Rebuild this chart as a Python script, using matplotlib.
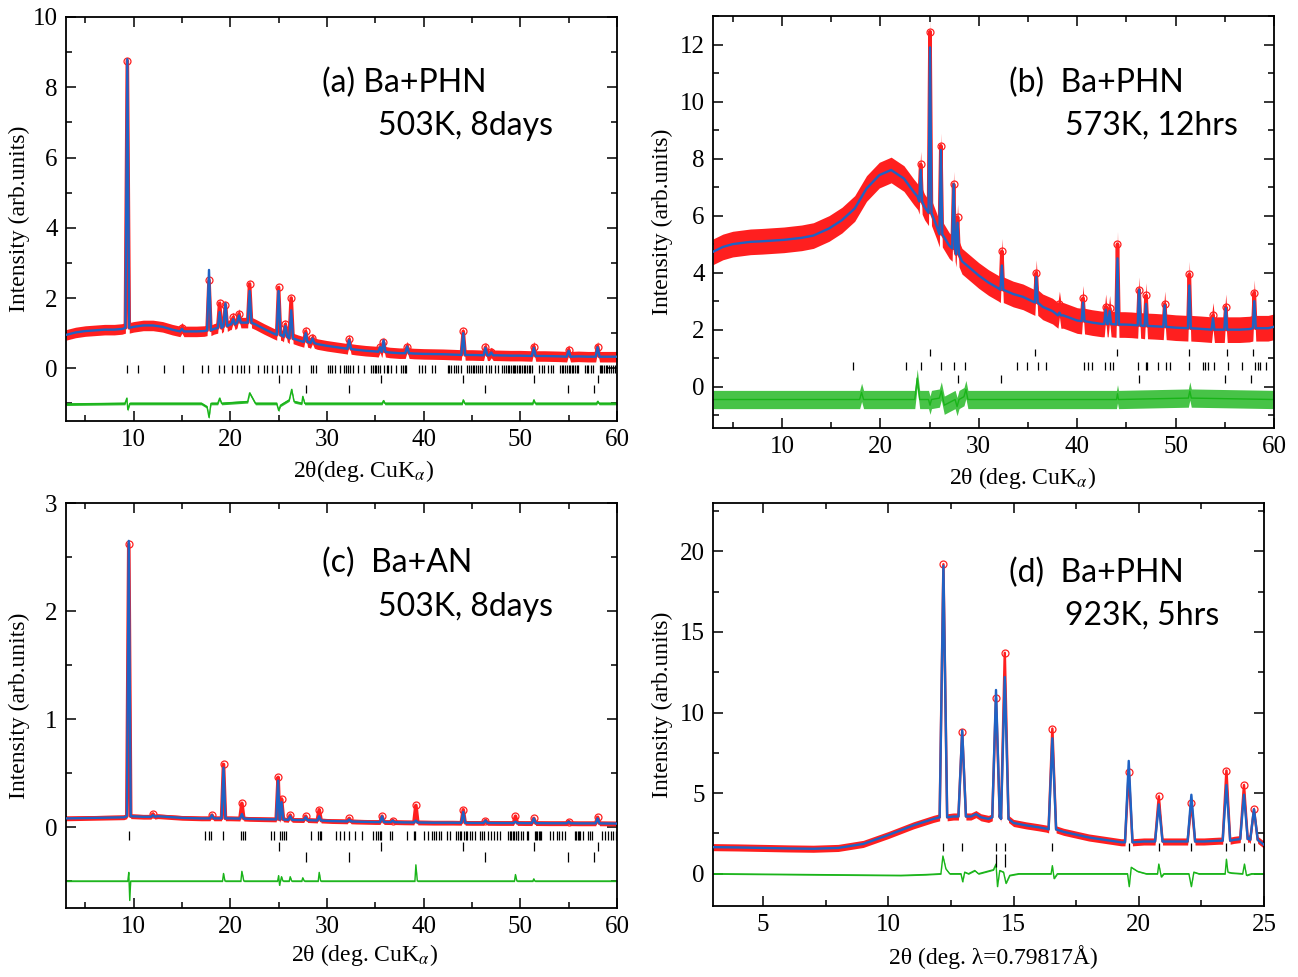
import numpy as np
import matplotlib
matplotlib.use('Agg')
import matplotlib.pyplot as plt
from matplotlib.ticker import MultipleLocator

plt.rcParams['font.family'] = 'serif'
plt.rcParams['font.serif'] = ['Liberation Serif', 'DejaVu Serif']
plt.rcParams['mathtext.fontset'] = 'stix'

# ---------------- panel (a) Ba+PHN 503K 8days ----------------
a_bg_x = [3, 4, 5, 6, 7, 8, 8.8, 10, 11, 12, 13, 14, 15.5, 16.5, 17.3, 18.3, 20.0, 21.4, 22.6, 23.5, 24.4,
          25.4, 26.0, 27.0, 28.15, 29, 30, 31, 32, 33, 34, 35, 36.5, 37.5, 39, 40, 42, 43, 45, 47.5, 49,
          50, 52.5, 54, 56, 57, 59, 60]
a_bg_y = [0.95, 1.02, 1.06, 1.08, 1.1, 1.1, 1.12, 1.18, 1.22, 1.22, 1.18, 1.1, 1.05, 1.05, 1.06, 1.12, 1.25,
          1.3, 1.25, 1.12, 1.0, 0.93, 0.88, 0.8, 0.74, 0.69, 0.64, 0.6, 0.56, 0.53, 0.5, 0.48, 0.45, 0.43, 0.42,
          0.41, 0.4, 0.39, 0.38, 0.37, 0.36, 0.36, 0.35, 0.34, 0.34, 0.33, 0.33, 0.33]
a_pk_x = [9.35, 15.0, 17.8, 18.9, 19.5, 20.3, 20.9, 22.0, 25.0, 25.7, 26.3, 27.8, 28.5, 32.3, 35.5, 35.85,
          38.3, 44.1, 46.4, 47.0, 51.4, 55.0, 58.0]
a_pk_base = [1.15, 1.05, 1.08, 1.15, 1.2, 1.25, 1.3, 1.3, 0.95, 0.9, 0.85, 0.75, 0.72, 0.55, 0.47, 0.47,
             0.43, 0.38, 0.37, 0.37, 0.35, 0.33, 0.33]
a_pk_calc = [8.8, 1.12, 2.8, 1.6, 1.85, 1.4, 1.5, 2.2, 2.2, 1.2, 1.65, 1.0, 0.85, 0.8, 0.6, 0.8,
             0.62, 1.0, 0.58, 0.45, 0.58, 0.5, 0.6]
a_pk_obs = [8.75, 1.15, 2.5, 1.85, 1.8, 1.45, 1.55, 2.4, 2.3, 1.25, 2.0, 1.05, 0.85, 0.82, 0.6, 0.75,
            0.62, 1.05, 0.6, 0.45, 0.62, 0.52, 0.62]
a_diff_x = [3, 9.1, 9.3, 9.4, 9.6, 17.0, 17.6, 17.8, 18.0, 18.7, 18.9, 19.1, 21.8, 22.0, 22.3, 22.6,
            24.8, 25.0, 25.2, 26.1, 26.35, 26.6, 27.4, 27.5, 27.7, 35.7, 35.85, 36.0, 44.0, 44.1, 44.25,
            51.3, 51.4, 51.55, 57.9, 58.0, 58.15, 60]
a_diff_y = [-1.02, -1.0, -0.85, -1.18, -1.0, -1.0, -1.1, -1.4, -1.0, -1.0, -0.85, -1.0, -0.95, -0.7, -0.85,
            -1.0, -1.0, -1.2, -1.05, -0.9, -0.6, -0.95, -1.0, -0.8, -1.0, -1.0, -0.92, -1.0, -1.0, -0.9, -1.0,
            -1.0, -0.9, -1.0, -1.0, -0.94, -1.0, -1.0]
a_ticks1 = [9.35, 10.5, 13.1, 15.1, 17.1, 17.7, 18.8, 19.4, 20.2, 20.7, 21.1, 21.4, 21.9, 22.9, 23.5, 23.8,
            24.3, 24.8, 25.4, 25.9, 26.3, 27.1, 28.4, 28.6, 28.9, 30.1, 30.3, 30.5, 30.8, 31.3, 31.8, 32.0,
            32.2, 32.4, 32.7, 33.2, 33.8, 34.6, 34.8, 35.0, 35.1, 35.3, 35.5, 35.9, 36.2, 36.3, 36.6, 37.1,
            37.7, 37.9, 38.1, 38.2, 39.5, 39.8, 40.1, 40.9, 41.2, 42.5, 42.6, 42.8, 43.1, 43.4, 43.6, 43.9,
            44.5, 44.7, 44.9, 45.1, 45.2, 45.4, 45.6, 45.8, 46.0, 46.5, 46.8, 47.0, 47.4, 47.7, 48.1, 48.3,
            48.5, 48.7, 48.8, 49.0, 49.2, 49.4, 49.5, 49.7, 49.9, 50.0, 50.2, 50.4, 50.5, 50.7, 50.9, 51.0,
            51.2, 51.9, 52.2, 52.5, 52.9, 53.2, 53.4, 54.1, 54.3, 54.4, 54.6, 54.8, 55.0, 55.1, 55.3, 55.5,
            55.7, 55.9, 56.0, 56.7, 56.9, 57.0, 57.3, 57.5, 58.2, 58.4, 58.5, 58.7, 58.9, 59.0, 59.2, 59.4,
            59.6, 59.8]
a_ticks2 = [25.0, 35.6, 44.1, 51.4, 58.0]
a_ticks3 = [27.8, 32.3, 46.3, 54.9, 57.6]

# ---------------- panel (b) Ba+PHN 573K 12hrs ----------------
b_bg_x = [3, 4, 5, 6.8, 8, 10.2, 12, 13.2, 14.8, 16.1, 17.4, 18.6, 19.9, 21.1, 22.4, 23.4, 23.8, 24.5,
          25.7, 27.0, 28.3, 30.0, 31.0, 32.0, 33.5, 34.5, 36.5, 37.5, 38.6, 40.0, 41.5, 42.5, 44.8, 45.5,
          47.8, 50.0, 52.5, 54.5, 56.5, 57.5, 59.4, 60]
b_bg_y = [4.73, 4.9, 5.0, 5.08, 5.1, 5.15, 5.22, 5.3, 5.55, 5.84, 6.25, 6.95, 7.42, 7.6, 7.3, 6.83, 6.66, 6.3,
          5.65, 4.95, 4.4, 3.9, 3.65, 3.45, 3.25, 3.15, 2.8, 2.65, 2.5, 2.32, 2.25, 2.2, 2.18, 2.17, 2.12,
          2.07, 2.03, 2.0, 2.0, 2.02, 2.05, 2.1]
b_pk_x = [24.1, 25.05, 26.15, 27.45, 27.85, 32.35, 35.85, 38.2, 40.6, 42.9, 43.3, 44.1, 46.3, 47.0, 48.9,
          51.4, 53.8, 55.1, 58.0]
b_pk_base = [6.5, 6.1, 5.35, 4.85, 4.65, 3.4, 2.95, 2.5, 2.3, 2.2, 2.2, 2.18, 2.15, 2.13, 2.1, 2.05, 2.0,
             2.0, 2.05]
b_pk_calc = [7.6, 11.9, 8.3, 7.1, 5.75, 4.25, 3.85, 2.6, 2.95, 2.7, 2.65, 4.5, 3.4, 2.9, 2.85, 3.55, 2.4,
             2.75, 3.0]
b_pk_obs = [7.8, 12.45, 8.45, 7.1, 5.95, 4.75, 4.0, 2.9, 3.1, 2.8, 2.75, 5.0, 3.4, 3.2, 2.9, 3.95, 2.5,
            2.8, 3.3]
b_diff_x = [3, 17.9, 18.1, 18.3, 23.5, 23.75, 24.0, 24.9, 25.05, 25.2, 26.0, 26.2, 26.5, 27.6, 27.8, 28.0,
            28.5, 28.7, 28.9, 44.0, 44.1, 44.2, 51.3, 51.45, 51.6, 60]
b_diff_y = [-0.45, -0.45, -0.2, -0.45, -0.45, 0.3, -0.45, -0.45, -0.65, -0.45, -0.4, -0.15, -0.65, -0.45,
            -0.7, -0.45, -0.35, -0.1, -0.45, -0.45, -0.25, -0.45, -0.4, -0.15, -0.4, -0.45]
b_ticks1 = [25.05, 35.7, 44.1, 51.4, 55.2, 57.9]
b_ticks2 = [17.2, 22.6, 24.1, 26.2, 27.5, 28.6, 33.9, 34.9, 36.0, 36.8, 40.65, 41.1, 41.5, 42.8, 43.3, 43.6,
            46.2, 47.0, 47.1, 48.2, 49.0, 49.4, 51.4, 52.8, 53.0, 53.3, 53.9, 55.3, 56.8, 58.1, 58.35, 58.6,
            59.2]
b_ticks3 = [27.9, 32.3, 46.3, 55.0, 57.7]

# ---------------- panel (c) Ba+AN 503K 8days ----------------
c_bg_x = [3, 6, 9, 11, 12.5, 15, 17, 20, 22, 23.5, 26.8, 28.5, 30.5, 33, 35, 38, 41, 43, 45, 48, 50.5, 53,
          56, 59, 60]
c_bg_y = [0.08, 0.085, 0.09, 0.095, 0.1, 0.085, 0.08, 0.08, 0.075, 0.072, 0.065, 0.062, 0.055, 0.05, 0.046,
          0.043, 0.04, 0.04, 0.038, 0.037, 0.036, 0.035, 0.034, 0.033, 0.032]
c_pk_x = [9.5, 12.0, 18.1, 19.3, 21.2, 24.95, 25.3, 26.2, 27.8, 29.2, 32.3, 35.7, 36.8, 39.2, 44.1, 46.4,
          49.5, 51.4, 55.0, 58.0]
c_pk_base = [0.1, 0.095, 0.08, 0.08, 0.078, 0.07, 0.07, 0.066, 0.064, 0.06, 0.052, 0.046, 0.045, 0.042, 0.039,
             0.038, 0.037, 0.036, 0.035, 0.034]
c_pk_calc = [2.65, 0.11, 0.11, 0.55, 0.12, 0.43, 0.23, 0.1, 0.09, 0.1, 0.07, 0.1, 0.06, 0.06, 0.14, 0.06,
             0.05, 0.08, 0.05, 0.08]
c_pk_obs = [2.62, 0.12, 0.11, 0.58, 0.22, 0.46, 0.26, 0.11, 0.1, 0.16, 0.08, 0.1, 0.06, 0.2, 0.16, 0.06,
            0.1, 0.08, 0.05, 0.09]
c_diff_x = [3, 9.4, 9.5, 9.6, 9.7, 19.2, 19.3, 19.45, 21.1, 21.2, 21.4, 24.9, 25.0, 25.1, 25.3, 25.45,
            26.1, 26.2, 26.35, 27.4, 27.5, 27.65, 29.1, 29.2, 29.35, 39.1, 39.2, 39.35, 49.4, 49.5, 49.65,
            51.3, 51.4, 51.5, 60]
c_diff_y = [-0.5, -0.5, -0.42, -0.68, -0.5, -0.5, -0.43, -0.5, -0.5, -0.41, -0.5, -0.5, -0.45, -0.54,
            -0.46, -0.5, -0.5, -0.46, -0.5, -0.5, -0.47, -0.5, -0.5, -0.42, -0.5, -0.5, -0.35, -0.5, -0.5,
            -0.44, -0.5, -0.5, -0.48, -0.5, -0.5]
c_ticks1 = [9.5, 17.4, 17.8, 18.0, 19.2, 21.15, 21.3, 21.55, 24.25, 24.55, 25.1, 25.35, 25.55, 25.8, 28.3,
            29.1, 29.25, 29.4, 30.95, 31.4, 31.8, 32.26, 32.88, 33.64, 34.78, 35.12, 35.3, 35.54, 35.64,
            36.5, 36.68, 38.33, 38.99, 39.16, 40.06, 40.47, 40.82, 41.09, 41.33, 41.58, 41.85, 42.47, 42.71,
            43.3, 43.51, 43.75, 43.92, 44.13, 44.34, 44.54, 44.79, 45.03, 45.3, 45.82, 46.0, 46.27, 46.68,
            46.96, 47.3, 47.61, 47.89, 48.75, 48.9, 49.05, 49.2, 49.4, 49.55, 49.75, 49.8, 50.06, 50.3,
            50.65, 50.82, 51.5, 51.6, 51.75, 51.9, 52.0, 52.15, 53.07, 53.41, 53.76, 54.0, 54.27, 54.62,
            55.7, 55.8, 55.95, 56.1, 56.2, 56.5, 57.03, 57.2, 57.38, 58.41, 58.76, 59.1, 59.38, 59.62, 59.86]
c_ticks2 = [25.0, 35.6, 44.1, 51.4, 58.0]
c_ticks3 = [27.8, 32.3, 46.3, 54.9, 57.6]

# ---------------- panel (d) Ba+PHN 923K 5hrs ----------------
d_bg_x = [3, 4, 5, 6, 7, 8, 9, 10, 11, 11.8, 12.6, 13.3, 13.5, 13.7, 14.0, 14.48, 15.0, 15.5, 16.0, 16.3,
          17.0, 18.0, 19.0, 19.3, 20.2, 21.5, 22.6, 23.2, 23.8, 24.4, 25]
d_bg_y = [1.65, 1.63, 1.6, 1.57, 1.55, 1.6, 1.85, 2.4, 3.0, 3.4, 3.55, 3.55, 3.7, 3.5, 3.4, 3.9, 3.15, 3.0,
          2.88, 2.8, 2.6, 2.25, 2.02, 1.95, 2.0, 2.0, 2.0, 2.05, 2.1, 2.2, 1.8]
d_pk_x = [12.2, 12.95, 14.3, 14.65, 16.55, 19.6, 20.8, 22.1, 23.5, 24.2, 24.6]
d_pk_base = [3.5, 3.55, 3.5, 3.4, 2.75, 1.95, 2.0, 2.0, 2.05, 2.15, 2.1]
d_pk_calc = [19.1, 8.9, 11.4, 12.2, 8.4, 7.0, 4.3, 4.9, 5.5, 4.9, 4.0]
d_pk_obs = [19.2, 8.8, 10.9, 13.7, 9.0, 6.3, 4.8, 4.4, 6.4, 5.5, 4.0]
d_diff_x = [3, 10.5, 11.5, 12.1, 12.18, 12.3, 12.45, 12.9, 12.97, 13.05, 13.2, 13.45, 13.6, 14.2, 14.3,
            14.36, 14.45, 14.6, 14.7, 14.85, 15.2, 16.5, 16.55, 16.62, 16.75, 19.55, 19.62, 19.7, 19.95, 20.3,
            20.75, 20.8, 20.9, 21.0, 22.0, 22.1, 22.2, 22.4, 23.45, 23.5, 23.56, 23.7, 24.15, 24.22, 24.3,
            24.5, 25]
d_diff_y = [0.0, -0.1, -0.05, 0.0, 1.1, 0.3, 0.0, 0.0, -0.5, 0.1, 0.0, 0.2, 0.0, 0.25, 0.6, -0.8, 0.2, 0.1,
            -0.6, -0.1, 0.0, 0.0, 0.5, -0.3, 0.0, 0.0, -0.8, 0.4, 0.15, 0.0, 0.0, 0.6, -0.2, 0.0, 0.0, -0.8,
            0.1, 0.0, 0.0, 0.9, 0.1, 0.05, 0.0, 0.6, -0.1, 0.0, 0.0]
d_ticks1 = [12.2, 12.95, 14.3, 14.65, 16.55, 19.6, 20.8, 22.1, 23.5, 24.2, 24.6]
d_ticks2 = [14.3, 14.65]

RED = '#ff1f1f'
BLUE = '#1f62c4'
GREEN = '#19b419'
SERIF = 'Liberation Serif'


def profile(bg_x, bg_y, pk_x, pk_base, pk_top, w):
    # background knots plus a triangle (base-top-base) for every reflection
    xs, ys = [], []
    for k, v in zip(bg_x, bg_y):
        if all(abs(k - p) > w for p in pk_x):
            xs.append(k)
            ys.append(v)
    for p, b, t in zip(pk_x, pk_base, pk_top):
        xs += [p - w, p, p + w]
        ys += [b, t, b]
    order = np.argsort(xs, kind='stable')
    return np.array(xs)[order], np.array(ys)[order]


def panel(ax, bg_x, bg_y, pk_x, pk_base, pk_calc, pk_obs, w, band, diff_x, diff_y, dband,
          tick_rows, obs_lw=2.6, d_alpha=0.9):
    ox, oy = profile(bg_x, bg_y, pk_x, pk_base, pk_obs, w)
    cx, cy = profile(bg_x, bg_y, pk_x, pk_base, pk_calc, w)
    ax.fill_between(ox, oy - band, oy + band, color=RED, lw=0, zorder=2)
    ax.plot(ox, oy, color=RED, lw=obs_lw, zorder=2)
    ax.plot(pk_x, pk_obs, 'o', mfc='none', mec=RED, ms=5, mew=0.9, zorder=2)
    ax.plot(cx, cy, color=BLUE, lw=1.7, zorder=3)
    dx, dy = np.array(diff_x), np.array(diff_y)
    ax.fill_between(dx, dy - dband, dy + dband, color=GREEN, lw=0, alpha=d_alpha, zorder=2)
    ax.plot(dx, dy, color=GREEN, lw=1.0, zorder=2)
    for pos, y0, y1 in tick_rows:
        ax.vlines(pos, y0, y1, color='black', lw=0.9, zorder=2)


def style(ax, xlim, ylim, xmaj, xmin, ymaj, ymin):
    ax.set_xlim(*xlim)
    ax.set_ylim(*ylim)
    ax.xaxis.set_major_locator(MultipleLocator(xmaj))
    ax.xaxis.set_minor_locator(MultipleLocator(xmin))
    ax.yaxis.set_major_locator(MultipleLocator(ymaj))
    ax.yaxis.set_minor_locator(MultipleLocator(ymin))
    ax.tick_params(which='both', direction='in', top=True, right=True, labelsize=18, width=1.1)
    ax.tick_params(which='major', length=7, pad=6)
    ax.tick_params(which='minor', length=4)
    for s in ax.spines.values():
        s.set_linewidth(1.3)


fig = plt.figure(figsize=(12.98, 9.77), dpi=100)
ax_a = fig.add_axes([0.0508, 0.5691, 0.4245, 0.4135])
ax_b = fig.add_axes([0.5493, 0.5619, 0.4322, 0.4217])
ax_c = fig.add_axes([0.0508, 0.0706, 0.4245, 0.4145])
ax_d = fig.add_axes([0.5493, 0.0727, 0.4245, 0.4125])

panel(ax_a, a_bg_x, a_bg_y, a_pk_x, a_pk_base, a_pk_calc, a_pk_obs, 0.2, 0.15,
      a_diff_x, a_diff_y, 0.04,
      [(a_ticks1, -0.13, 0.1), (a_ticks2, -0.2, -0.43), (a_ticks3, -0.48, -0.71)])
panel(ax_b, b_bg_x, b_bg_y, b_pk_x, b_pk_base, b_pk_calc, b_pk_obs, 0.15, 0.45,
      b_diff_x, b_diff_y, 0.32,
      [(b_ticks1, 1.06, 1.33), (b_ticks2, 0.59, 0.88), (b_ticks3, 0.14, 0.42)], d_alpha=0.8)
panel(ax_c, c_bg_x, c_bg_y, c_pk_x, c_pk_base, c_pk_calc, c_pk_obs, 0.2, 0.022,
      c_diff_x, c_diff_y, 0.006,
      [(c_ticks1, -0.04, -0.12), (c_ticks2, -0.14, -0.22), (c_ticks3, -0.23, -0.32)])
panel(ax_d, d_bg_x, d_bg_y, d_pk_x, d_pk_base, d_pk_calc, d_pk_obs, 0.15, 0.22,
      d_diff_x, d_diff_y, 0.04,
      [(d_ticks1, 1.4, 1.9), (d_ticks2, 0.4, 1.2)], obs_lw=1.8)

style(ax_a, (3, 60), (-1.5, 10), 10, 5, 2, 1)
style(ax_b, (3, 60), (-1.45, 13), 10, 5, 2, 1)
style(ax_c, (3, 60), (-0.75, 3), 10, 5, 1, 0.5)
style(ax_d, (3, 25), (-2, 23), 5, 2.5, 5, 2.5)

ylab = 'Intensity (arb.units)'
for ax, yx in [(ax_a, -0.065), (ax_b, -0.071), (ax_c, -0.065), (ax_d, -0.073)]:
    ax.set_ylabel(ylab, fontsize=17)
    ax.yaxis.set_label_coords(yx, 0.5)

ax_a.set_xlabel(r'2θ(deg. CuK$_{\alpha}$)', fontsize=17)
ax_a.xaxis.set_label_coords(0.54, -0.092)
ax_b.set_xlabel(r'2θ (deg. CuK$_{\alpha}$)', fontsize=17)
ax_b.xaxis.set_label_coords(0.551, -0.09)
ax_c.set_xlabel(r'2θ (deg. CuK$_{\alpha}$)', fontsize=17)
ax_c.xaxis.set_label_coords(0.541, -0.084)
ax_d.set_xlabel('2θ (deg. λ=0.79817Å)', fontsize=17)
ax_d.xaxis.set_label_coords(0.508, -0.097)

notes = [(ax_a, '(a) Ba+PHN', '503K, 8days', (0.465, 0.837), (0.566, 0.731)),
         (ax_b, '(b)  Ba+PHN', '573K, 12hrs', (0.528, 0.837), (0.627, 0.733)),
         (ax_c, '(c)  Ba+AN', '503K, 8days', (0.465, 0.852), (0.566, 0.743)),
         (ax_d, '(d)  Ba+PHN', '923K, 5hrs', (0.537, 0.826), (0.639, 0.72))]
for ax, t1, t2, p1, p2 in notes:
    ax.text(p1[0], p1[1], t1, transform=ax.transAxes, fontsize=23, family='Lato', va='center', ha='left')
    ax.text(p2[0], p2[1], t2, transform=ax.transAxes, fontsize=23, family='Lato', va='center', ha='left')

fig.savefig('out.png', dpi=100)
